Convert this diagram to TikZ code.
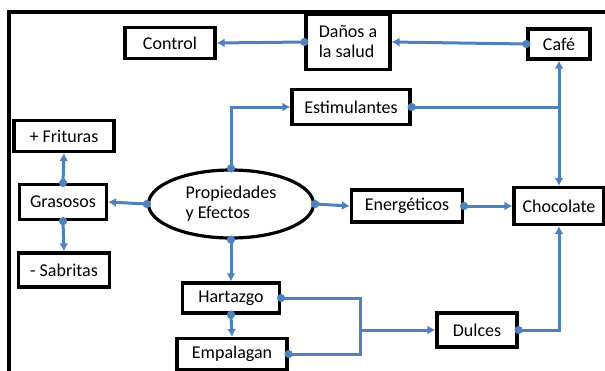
\documentclass[tikz,border=0pt]{standalone}
\usepackage{fontspec}
\setmainfont{Carlito}
\usetikzlibrary{arrows.meta,shapes.geometric}
\definecolor{linkblue}{RGB}{79,129,189}
\tikzset{
  box/.style={draw=black,line width=3.2pt,fill=white,inner sep=2pt,font=\fontsize{18}{20}\selectfont},
  oval/.style={ellipse,draw=black,line width=3.2pt,fill=white,font=\fontsize{18}{20}\selectfont,align=left},
  dot/.tip={Circle[length=8pt,width=8pt]},
  head/.tip={Latex[length=8pt,width=9pt]},
  link/.style={draw=linkblue,line width=3pt,dot-head,shorten <=-4pt},
  plain/.style={draw=linkblue,line width=3pt,dot-,shorten <=-4pt},
  tail/.style={draw=linkblue,line width=3pt,-head}
}
\begin{document}
\begin{tikzpicture}[x=1pt,y=-1pt]
\useasboundingbox (0,0) rectangle (605,370);
% frame
\draw[line width=3.2pt] (9,372) -- (9,12) -- (607,12);

% nodes
\node[box,minimum width=90pt,minimum height=31pt] (ctrl) at (170,43) {Control};
\node[box,minimum width=84pt,minimum height=55pt,align=left] (danos) at (348,42) {Daños a\\la salud};
\node[box,minimum width=62pt,minimum height=30pt] (cafe) at (559,44) {Café};
\node[box,minimum width=118pt,minimum height=35pt] (estim) at (351,107) {Estimulantes};
\node[box,minimum width=100pt,minimum height=31pt] (frit) at (64,136) {+ Frituras};
\node[box,minimum width=87pt,minimum height=35pt] (gras) at (63,202) {Grasosos};
\node[oval,minimum width=165pt,minimum height=68pt,inner sep=0pt] (prop) at (231,204) {Propiedades\\y Efectos};
\node[box,minimum width=111pt,minimum height=32pt] (energ) at (407,206) {Energéticos};
\node[box,minimum width=90pt,minimum height=37pt] (choc) at (559,206) {Chocolate};
\node[box,minimum width=91pt,minimum height=34pt] (sabr) at (64,270) {- Sabritas};
\node[box,minimum width=97pt,minimum height=30pt] (hart) at (231,298) {Hartazgo};
\node[box,minimum width=110pt,minimum height=31pt] (empa) at (232,354) {Empalagan};
\node[box,minimum width=80pt,minimum height=34pt] (dulc) at (477,330) {Dulces};

% junctions
\coordinate (jtop) at (cafe.south |- estim.east);
\coordinate (jmid) at (360,330);

% connectors
\draw[link] (danos.west) -- (ctrl.east);
\draw[link] (cafe.west) -- (danos.east);
\draw[plain] (estim.east) -- (jtop);
\draw[tail] (jtop) -- (cafe.south);
\draw[tail] (jtop) -- (choc.north);
\draw[link] (prop.north) |- (estim.west);
\draw[link] (prop.west) -- (gras.east);
\draw[link] (prop.east) -- (energ.west);
\draw[link] (energ.east) -- (choc.west);
\draw[link] (prop.south) -- (hart.north);
\draw[link] (hart.south) -- (empa.north);
\draw[plain] (hart.east) -| (jmid);
\draw[plain] (empa.east) -| (jmid);
\draw[tail] (jmid) -- (dulc.west);
\draw[link] (dulc.east) -| (choc.south);
\draw[link] (gras.north) -- (frit.south);
\draw[link] (gras.south) -- (sabr.north);
\end{tikzpicture}
\end{document}
